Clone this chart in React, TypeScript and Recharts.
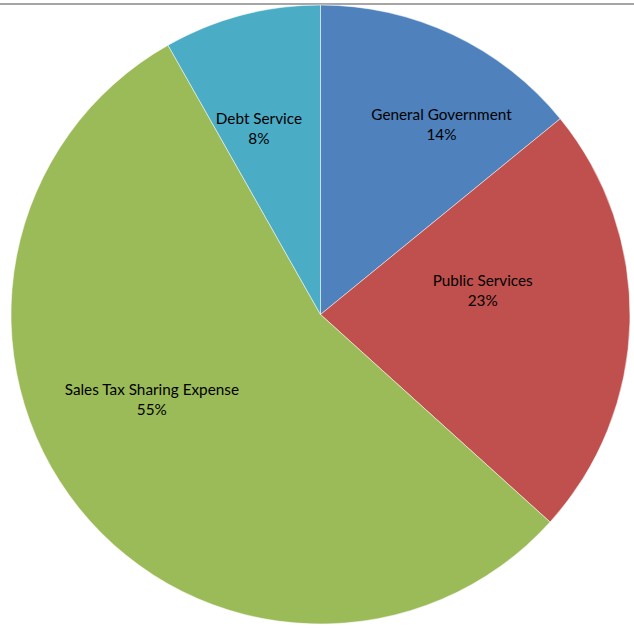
import { Cell, Pie, PieChart } from "recharts";

const categories = [
    "General Government",
    "Public Services",
    "Sales Tax Sharing Expense",
    "Debt Service",
];
const shares = [14.1, 22.6, 55.1, 8.2];
const colors = ["#4F81BD", "#C0504D", "#9BBB59", "#4BACC6"];

// label placement, tuned to the "best fit" spots: radius as a share of the pie, angle nudge in degrees
const labelRadius = [0.73, 0.53, 0.61, 0.635];
const labelNudge = [7, -10, 12, -3.5];

const data = categories.map((name, i) => ({ name, value: shares[i] }));
const total = shares.reduce((a, b) => a + b, 0);

const RADIAN = Math.PI / 180;

const renderLabel = (props: any) => {
    const { cx, cy, midAngle, outerRadius, index, value } = props;
    const ang = (midAngle - labelNudge[index]) * RADIAN;
    const r = outerRadius * labelRadius[index];
    const x = cx + r * Math.cos(ang);
    const y = cy - r * Math.sin(ang);
    return (
        <text
            x={x}
            y={y}
            textAnchor="middle"
            fill="#000"
            fontSize={15.3}
            fontFamily="Lato, 'Open Sans', sans-serif"
        >
            <tspan x={x} dy={-4}>
                {categories[index]}
            </tspan>
            <tspan x={x} dy={20}>
                {`${Math.round((value / total) * 100)}%`}
            </tspan>
        </text>
    );
};

export default function App() {
    return (
        <div style={{ position: "relative", width: 634, height: 629 }}>
            <style>{`body{margin:0}`}</style>
            <div
                style={{
                    position: "absolute",
                    left: 0,
                    top: 3,
                    width: 634,
                    height: 2,
                    background: "#a6a6a6",
                }}
            />
            <PieChart width={634} height={629} margin={{ top: 0, right: 0, bottom: 0, left: 0 }}>
                <Pie
                    data={data}
                    dataKey="value"
                    nameKey="name"
                    cx={320.5}
                    cy={314.5}
                    outerRadius={309.5}
                    startAngle={90}
                    endAngle={-270}
                    label={renderLabel}
                    labelLine={false}
                    stroke="#ffffff"
                    strokeWidth={0.5}
                    isAnimationActive={false}
                >
                    {data.map((d, i) => (
                        <Cell key={d.name} fill={colors[i]} />
                    ))}
                </Pie>
            </PieChart>
        </div>
    );
}
